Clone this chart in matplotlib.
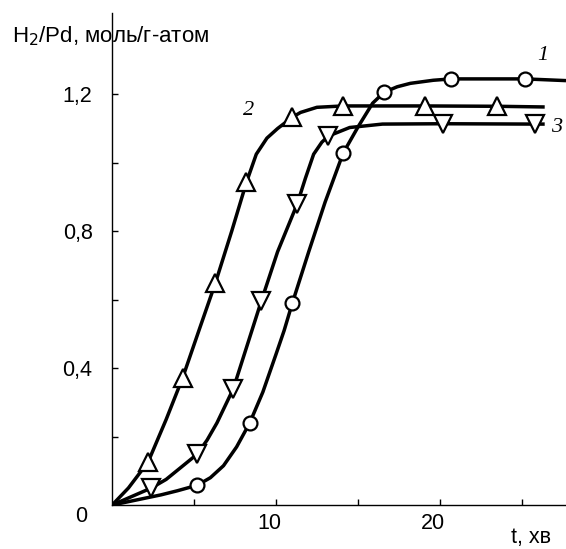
import matplotlib
matplotlib.use("Agg")
import matplotlib.pyplot as plt
import matplotlib.transforms as mtransforms

plt.rcParams['font.family'] = ['Liberation Sans', 'DejaVu Sans']

# маркеры (точки эксперимента)
t1 = [5.2, 8.4, 11.0, 14.1, 16.6, 20.7, 25.2]
h1 = [0.058, 0.24, 0.59, 1.028, 1.206, 1.245, 1.245]
t2 = [2.2, 4.3, 6.3, 8.2, 11.0, 14.1, 19.1, 23.5]
h2 = [0.126, 0.371, 0.648, 0.943, 1.133, 1.166, 1.166, 1.165]
t3 = [2.4, 5.2, 7.4, 9.1, 11.3, 13.2, 20.2, 25.8]
h3 = [0.05, 0.149, 0.34, 0.595, 0.88, 1.078, 1.112, 1.112]

# линии
lt1 = [0, 1, 2, 3, 4, 5.2, 6.0, 6.8, 7.6, 8.4, 9.2, 10.0, 10.5, 11.0, 12.0, 13.0, 14.1,
       15.0, 15.9, 16.6, 17.4, 18.2, 19.6, 20.7, 25.2, 27.7]
lh1 = [0, 0.01, 0.02, 0.03, 0.042, 0.058, 0.08, 0.115, 0.17, 0.24, 0.33, 0.44, 0.51, 0.59,
       0.74, 0.885, 1.028, 1.104, 1.174, 1.206, 1.222, 1.232, 1.241, 1.245, 1.245, 1.24]
lt2 = [0, 1.0, 2.2, 3.3, 4.3, 5.3, 6.3, 7.3, 8.2, 8.8, 9.45, 10.1, 11.0, 11.5, 12.5,
       14.1, 19.1, 23.5, 26.4]
lh2 = [0, 0.05, 0.126, 0.25, 0.371, 0.51, 0.648, 0.80, 0.943, 1.025, 1.072, 1.10, 1.133,
       1.147, 1.162, 1.166, 1.166, 1.165, 1.163]
lt3 = [0, 1.2, 2.4, 3.3, 4.2, 5.2, 5.8, 6.4, 7.4, 8.2, 9.1, 10.1, 11.3, 11.8, 12.3, 12.8,
       13.2, 14.5, 16.5, 20.2, 25.8, 26.4]
lh3 = [0, 0.025, 0.05, 0.075, 0.11, 0.149, 0.19, 0.24, 0.34, 0.46, 0.595, 0.74, 0.88, 0.955,
       1.025, 1.06, 1.078, 1.103, 1.113, 1.114, 1.113, 1.113]

xticks = [5, 10, 15, 20, 25]
xlabels = ['', '10', '', '20', '']
yticks = [0.2, 0.4, 0.6, 0.8, 1.0, 1.2]
ylabels = ['', '0,4', '', '0,8', '', '1,2']

fig = plt.figure(figsize=(5.66, 5.49), dpi=100)
ax = fig.add_axes([0.198, 0.080, 0.802, 0.896])

lw = 2.5
for lx, ly in [(lt1, lh1), (lt2, lh2), (lt3, lh3)]:
    ax.plot(lx, ly, color='black', lw=lw, zorder=2, solid_capstyle='butt')
ax.plot(t1, h1, 'o', ms=10, mfc='white', mec='black', mew=1.6, zorder=3, clip_on=False)
ax.plot(t2, h2, '^', ms=13, mfc='white', mec='black', mew=1.6, zorder=3, clip_on=False)
ax.plot(t3, h3, 'v', ms=13, mfc='white', mec='black', mew=1.6, zorder=3, clip_on=False)

ax.set_xlim(0, 27.7)
ax.set_ylim(0, 1.437)
ax.spines['top'].set_visible(False)
ax.spines['right'].set_visible(False)
ax.spines['left'].set_linewidth(1.0)
ax.spines['bottom'].set_linewidth(1.0)
ax.set_xticks(xticks)
ax.set_xticklabels(xlabels)
ax.set_yticks(yticks)
ax.set_yticklabels(ylabels)
ax.tick_params(axis='both', direction='in', length=4, width=1, labelsize=15.5)
ax.tick_params(axis='y', pad=14)
ax.tick_params(axis='x', pad=6)
shift = mtransforms.ScaledTranslation(-7 / 100, 0, fig.dpi_scale_trans)
for lab in ax.get_xticklabels():
    lab.set_transform(lab.get_transform() + shift)

# подписи
fig.text(81 / 566, 1 - 517 / 549, '0', fontsize=15.5, ha='center', va='center')
fig.text(12 / 566, 1 - 36 / 549, 'H$_2$/Pd, моль/г-атом', fontsize=16, ha='left', va='center')
fig.text(531 / 566, 1 - 538 / 549, 't, хв', fontsize=15.5, ha='center', va='center')
serif = dict(fontsize=16, style='italic', family='Liberation Serif', ha='center', va='center')
ax.text(26.3, 1.314, '1', **serif)
ax.text(8.35, 1.153, '2', **serif)
ax.text(27.1, 1.104, '3', **serif)

fig.savefig('out.png', dpi=100)
